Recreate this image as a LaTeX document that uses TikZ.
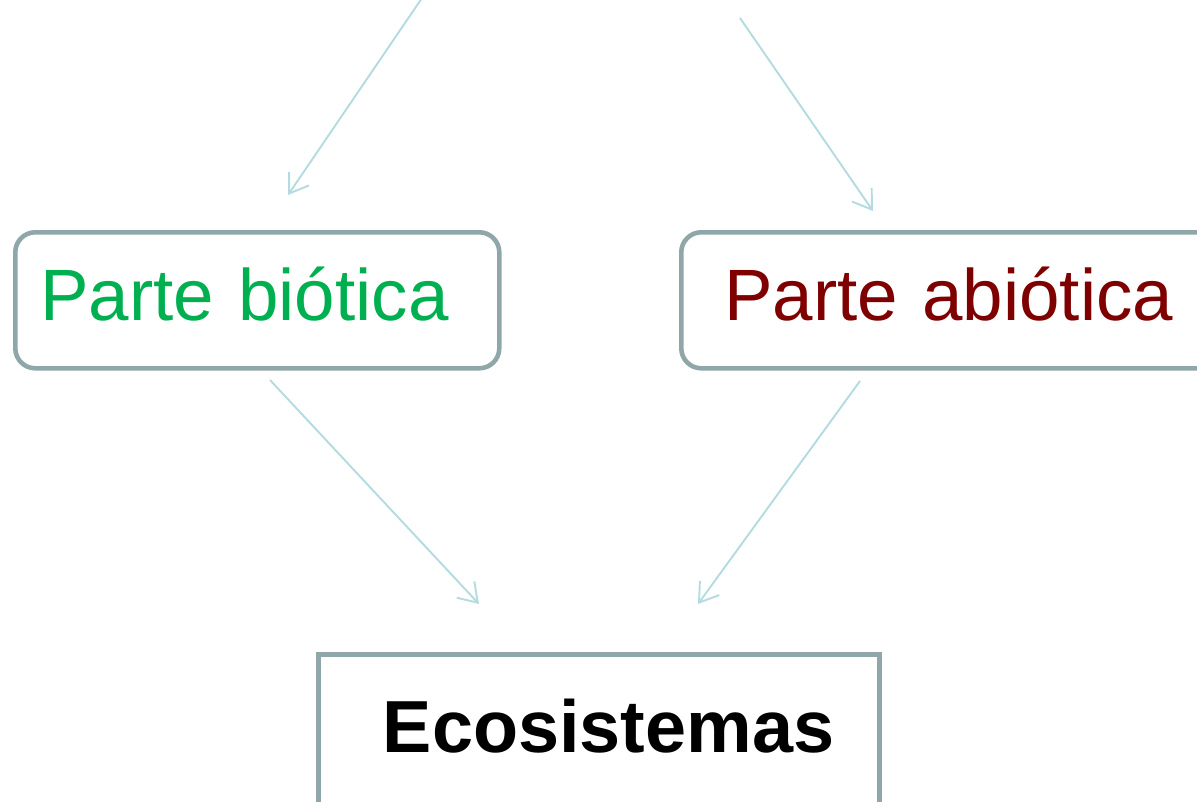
\documentclass[tikz,border=0pt]{standalone}
\usepackage{fontspec}
\setmainfont{Liberation Sans}
\usetikzlibrary{arrows.meta}

\definecolor{boxgray}{HTML}{8FA7A9}
\definecolor{arrowblue}{HTML}{B4DCE0}
\definecolor{bioticgreen}{HTML}{00B050}
\definecolor{abioticred}{HTML}{7F0000}

\begin{document}
\begin{tikzpicture}[
    partbox/.style={draw=boxgray, line width=1.3pt, rounded corners=0.2cm, inner ysep=0pt,
        text height=0.88cm, text depth=0.48cm, align=left, anchor=north west,
        font=\fontsize{20.7}{24}\selectfont},
    ecobox/.style={draw=boxgray, line width=1.3pt, inner xsep=0.45cm, inner ysep=0pt,
        text width=4.71cm, text height=0.98cm, text depth=1.2cm, align=right, anchor=north west,
        font=\fontsize{21}{24}\selectfont\bfseries},
    flow/.style={-{Straight Barb[length=0.18cm, width=0.24cm]}, arrowblue, line width=0.55pt}
]

    % page size
    \useasboundingbox (0, 0) rectangle (11.97, -8.02);
    \clip (0, 0) rectangle (11.97, -8.02);

    % the two parts
    \node[partbox, inner xsep=0.25cm, text width=4.34cm, text=bioticgreen] (bio) at (0.13, -2.30) {Parte biótica};
    \node[partbox, inner xsep=0.43cm, text width=5.0cm, text=abioticred] (abio) at (6.79, -2.30) {Parte abiótica};

    % ecosystem box
    \node[ecobox] (eco) at (3.16, -6.52) {Ecosistemas};

    % arrow ends
    \coordinate (in-bio) at (4.22, 0.02);
    \coordinate (tip-bio) at (2.88, -1.95);
    \coordinate (in-abio) at (7.40, -0.18);
    \coordinate (tip-abio) at (8.73, -2.11);
    \coordinate (out-bio) at (2.70, -3.80);
    \coordinate (eco-left) at (4.79, -6.04);
    \coordinate (out-abio) at (8.60, -3.81);
    \coordinate (eco-right) at (6.98, -6.04);

    \draw[flow] (in-bio) -- (tip-bio);
    \draw[flow] (in-abio) -- (tip-abio);
    \draw[flow] (out-bio) -- (eco-left);
    \draw[flow] (out-abio) -- (eco-right);

\end{tikzpicture}
\end{document}
